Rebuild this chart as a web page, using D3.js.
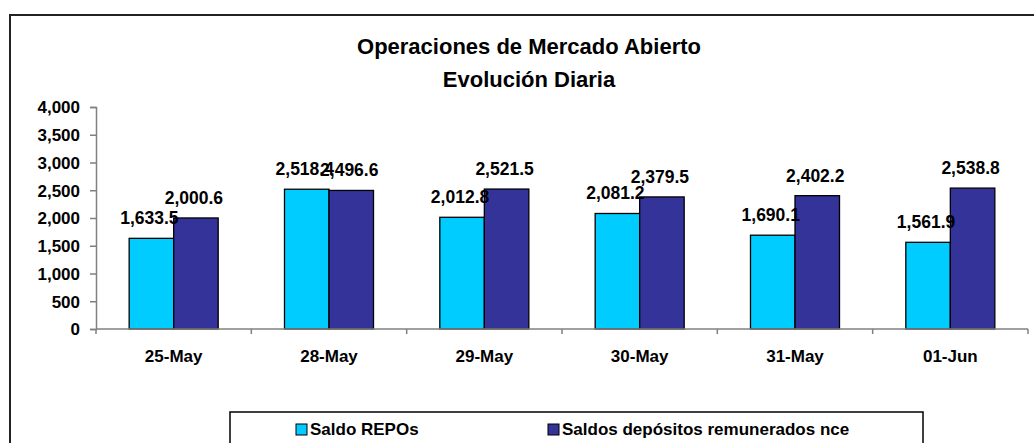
<!DOCTYPE html>
<html>
<head>
<meta charset="utf-8">
<script src="https://cdn.jsdelivr.net/npm/d3@7"></script>
<style>
  body { margin: 0; background: #fff; }
  text { font-family: "Liberation Sans", Arial, sans-serif; font-weight: bold; fill: #000; }
</style>
</head>
<body>
<svg id="chart" width="1034" height="443"></svg>
<script>
// chart data
var categories = ['25-May', '28-May', '29-May', '30-May', '31-May', '01-Jun'];
var seriesNames = ['Saldo REPOs', 'Saldos depósitos remunerados nce'];
var repos = [1633.5, 2518.4, 2012.8, 2081.2, 1690.1, 1561.9];
var depositos = [2000.6, 2496.6, 2521.5, 2379.5, 2402.2, 2538.8];
var yTicks = [0, 500, 1000, 1500, 2000, 2500, 3000, 3500, 4000];
var colors = ['#00CCFF', '#333399'];

var svg = d3.select('#chart');

// outer frame (runs off the right / bottom edge like the original)
svg.append('rect')
  .attr('x', 10).attr('y', 15)
  .attr('width', 1060).attr('height', 460)
  .attr('fill', '#fff').attr('stroke', '#222').attr('stroke-width', 2);

// title
var title = svg.append('text')
  .attr('text-anchor', 'middle')
  .style('font-size', '22px');
title.append('tspan').attr('x', 529).attr('y', 54).text('Operaciones de Mercado Abierto');
title.append('tspan').attr('x', 529).attr('y', 87).text('Evolución Diaria');

var plotLeft = 96, plotRight = 1028, plotTop = 107, plotBottom = 329;

var x0 = d3.scaleBand().domain(categories).range([plotLeft, plotRight]).padding(0);
var x1 = d3.scaleBand().domain([0, 1]).range([0, x0.bandwidth()])
  .paddingInner(0).paddingOuter(0.745);
var y = d3.scaleLinear().domain([0, 4000]).range([plotBottom, plotTop]);

// y axis
var yAxis = svg.append('g')
  .attr('transform', 'translate(' + plotLeft + ',0)')
  .call(d3.axisLeft(y).tickValues(yTicks).tickFormat(d3.format(',')).tickSize(6).tickPadding(10));
yAxis.select('.domain').attr('stroke', '#808080').attr('stroke-width', 1.5);
yAxis.selectAll('.tick line').attr('stroke', '#808080').attr('stroke-width', 1.5);
yAxis.selectAll('.tick text').style('font-size', '17px').attr('dy', '0.35em')
  .style('font-family', '"Liberation Sans", Arial, sans-serif').style('font-weight', 'bold');

// bars
var rows = categories.map(function(c, i) { return {cat: c, vals: [repos[i], depositos[i]]}; });

var groups = svg.selectAll('g.cat')
  .data(rows).enter().append('g')
  .attr('class', 'cat')
  .attr('transform', function(d) { return 'translate(' + x0(d.cat) + ',0)'; });

groups.selectAll('rect')
  .data(function(d) { return d.vals; })
  .enter().append('rect')
  .attr('x', function(d, i) { return x1(i); })
  .attr('y', function(d) { return y(d); })
  .attr('width', x1.bandwidth())
  .attr('height', function(d) { return plotBottom - y(d); })
  .attr('fill', function(d, i) { return colors[i]; })
  .attr('stroke', '#000').attr('stroke-width', 1.3);

// x axis line + boundary ticks
svg.append('line')
  .attr('x1', plotLeft).attr('x2', plotRight).attr('y1', plotBottom).attr('y2', plotBottom)
  .attr('stroke', '#808080').attr('stroke-width', 1.5);
svg.selectAll('line.xtick')
  .data(categories.concat(['end']))
  .enter().append('line')
  .attr('class', 'xtick')
  .attr('x1', function(d, i) { return plotLeft + i * x0.step(); })
  .attr('x2', function(d, i) { return plotLeft + i * x0.step(); })
  .attr('y1', plotBottom).attr('y2', plotBottom + 5)
  .attr('stroke', '#808080').attr('stroke-width', 1.5);

svg.selectAll('text.cat')
  .data(categories).enter().append('text')
  .attr('class', 'cat')
  .attr('x', function(d) { return x0(d) + x0.bandwidth() / 2; })
  .attr('y', 362)
  .attr('text-anchor', 'middle')
  .style('font-size', '17px')
  .text(function(d) { return d; });

// data labels
var fmt = d3.format(',.1f');
groups.selectAll('text.lbl')
  .data(function(d) { return d.vals; })
  .enter().append('text')
  .attr('class', 'lbl')
  .attr('x', function(d, i) { return x1(i) + x1.bandwidth() / 2 - 2; })
  .attr('y', function(d) { return y(d) - 14; })
  .attr('text-anchor', 'middle')
  .style('font-size', '17.5px')
  .text(function(d) { return fmt(d); });

// legend
svg.append('rect')
  .attr('x', 230).attr('y', 412).attr('width', 693).attr('height', 60)
  .attr('fill', '#fff').attr('stroke', '#000').attr('stroke-width', 1.5);
var legX = [296, 548];
var leg = svg.selectAll('g.leg')
  .data(seriesNames).enter().append('g')
  .attr('class', 'leg')
  .attr('transform', function(d, i) { return 'translate(' + legX[i] + ',424)'; });
leg.append('rect')
  .attr('width', 11).attr('height', 11)
  .attr('fill', function(d, i) { return colors[i]; })
  .attr('stroke', '#000').attr('stroke-width', 1);
leg.append('text')
  .attr('x', 14).attr('y', 11)
  .style('font-size', '17px')
  .text(function(d) { return d; });
</script>
</body>
</html>
